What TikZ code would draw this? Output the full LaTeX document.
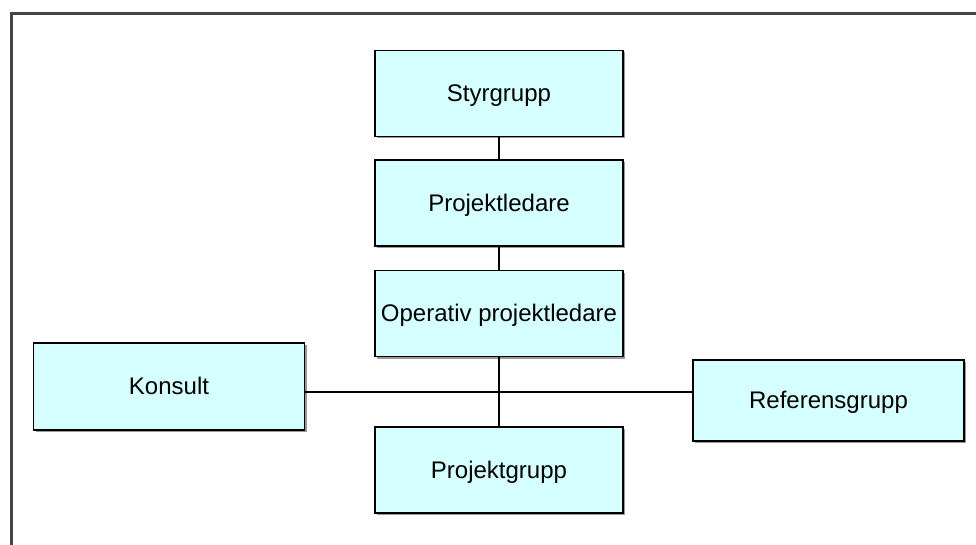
\documentclass[tikz,border=0pt]{standalone}
\usepackage{fontspec}
\setmainfont{Liberation Sans}
\usetikzlibrary{shadows}
\definecolor{boxfill}{RGB}{214,255,255}
\definecolor{framegray}{RGB}{70,70,70}
\begin{document}
\begin{tikzpicture}[x=1pt,y=-1pt,
  orgbox/.style={draw=black, line width=1.8pt, fill=boxfill, inner sep=0pt,
    font=\fontsize{24}{29}\selectfont, text height=17.5pt, text depth=1pt,
    drop shadow={shadow xshift=2pt, shadow yshift=-2pt, fill=gray!80, opacity=1}},
  link/.style={draw=black, line width=2pt}]
\useasboundingbox (0,0) rectangle (976,545);
\draw[framegray, line width=3pt] (11,545) -- (11,14) -- (976,14);
\node[orgbox, minimum width=248pt, minimum height=86pt] (styr) at (499,93.5) {Styrgrupp};
\node[orgbox, minimum width=248pt, minimum height=86pt] (pl) at (499,203) {Projektledare};
\node[orgbox, minimum width=248pt, minimum height=86pt] (opl) at (499,313.5) {Operativ projektledare};
\node[orgbox, minimum width=271pt, minimum height=87pt] (kons) at (169,386.5) {Konsult};
\node[orgbox, minimum width=271pt, minimum height=81pt] (ref) at (828.5,400.5) {Referensgrupp};
\node[orgbox, minimum width=248pt, minimum height=86pt] (pg) at (499,470) {Projektgrupp};
\coordinate (j) at (499,392);
\draw[link] (styr) -- (pl);
\draw[link] (pl) -- (opl);
\draw[link] (opl) -- (pg);
\draw[link] (kons.east |- j) -- (ref.west |- j);
\end{tikzpicture}
\end{document}
